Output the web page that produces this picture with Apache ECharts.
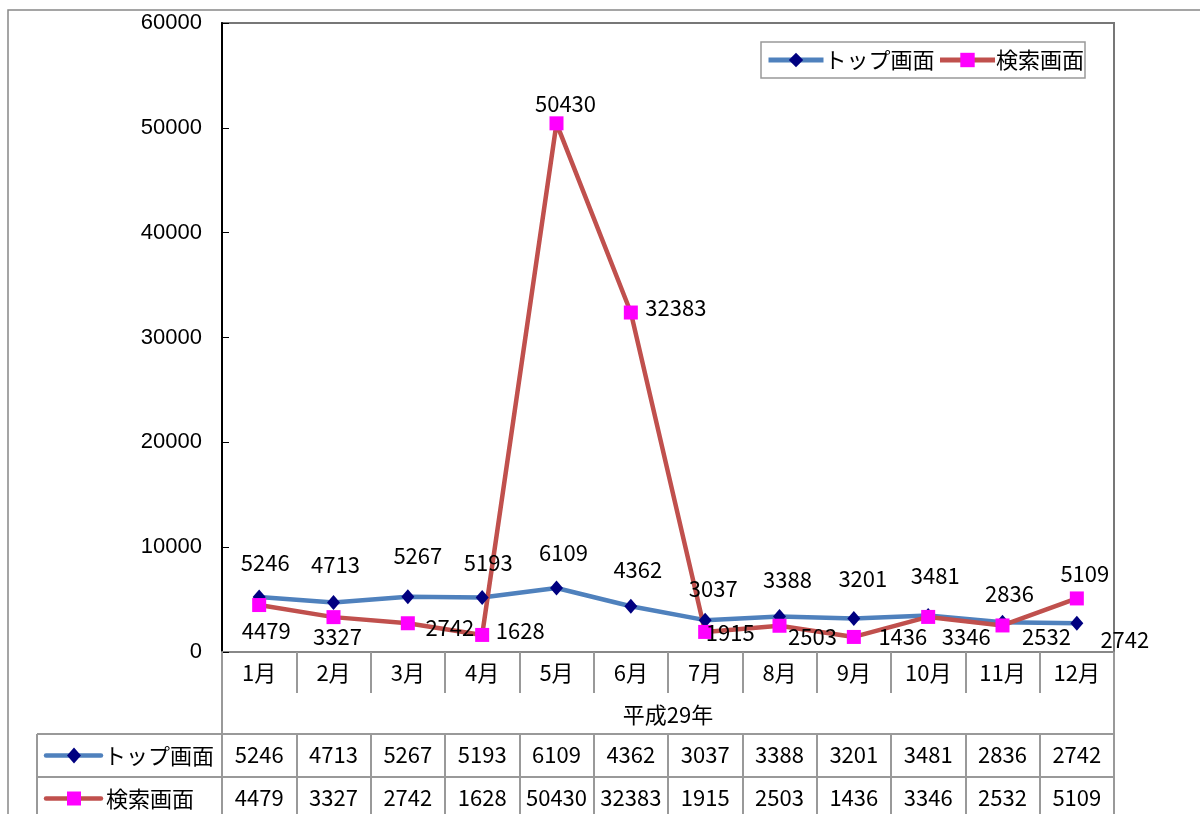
<!DOCTYPE html>
<html>
<head>
<meta charset="UTF-8">
<title>トップ画面・検索画面 アクセス数</title>
<script src="https://cdn.jsdelivr.net/npm/echarts@6/dist/echarts.min.js"></script>
<style>
  html, body { margin: 0; width: 100%; height: 100%; background: #fff; }
  #chart { width: 1200px; height: 814px; }
</style>
</head>
<body>
<div id="chart"></div>
<script>
  // データ
  const months = ['1月', '2月', '3月', '4月', '5月', '6月', '7月', '8月', '9月', '10月', '11月', '12月'];
  const yearLabel = '平成29年';
  const seriesNames = ['トップ画面', '検索画面'];
  const topValues = [5246, 4713, 5267, 5193, 6109, 4362, 3037, 3388, 3201, 3481, 2836, 2742];
  const searchValues = [4479, 3327, 2742, 1628, 50430, 32383, 1915, 2503, 1436, 3346, 2532, 5109];
  const yTicks = { min: 0, max: 60000, interval: 10000 };

  // ラベル位置 (Excel の手動配置に合わせる)
  const topLabelOffset = [[6, -34], [2, -38], [10, -41], [6, -35], [7, -35], [7, -37],
                          [8, -32], [8, -37], [9, -40], [7, -40], [7, -29], [48, 16]];
  const searchLabelOffset = [[7, 26], [4, 20], [42, 4], [38, -4], [9, -20], [45, -5],
                             [25, 1], [33, 11], [49, 0], [38, 20], [44, 11], [8, -25]];

  const jp = '"Noto Sans CJK JP", sans-serif';
  const colors = {
    topLine: '#4F81BD', topMark: '#000080',
    searchLine: '#C0504D', searchMark: '#FF00FF',
    table: '#999'
  };

  // グリッド位置
  const G = { left: 222, right: 86, top: 23, bottom: 162 };
  const W = 1200, H = 814;
  const plotL = G.left, plotR = W - G.right, axisY = H - G.bottom;
  const row1 = axisY + 82, row2 = axisY + 125, row3 = axisY + 168;
  const tableL = 37;

  function tableAxis(values, offset) {
    return {
      type: 'category',
      data: months,
      position: 'bottom',
      offset: offset,
      axisLine: { show: true, lineStyle: { color: colors.table, width: 2 } },
      axisTick: { show: true, interval: 0, length: 43, lineStyle: { color: colors.table, width: 2 } },
      axisLabel: {
        interval: 0,
        formatter: (v, i) => String(values[i]),
        fontSize: 22, color: '#000', fontFamily: jp, margin: 10
      },
      splitLine: { show: false }
    };
  }

  function key(y, lineColor, markColor, shape) {
    const items = [{
      type: 'line',
      shape: { x1: 46, y1: y, x2: 101, y2: y },
      style: { stroke: lineColor, lineWidth: 4.5, lineCap: 'round' }
    }];
    if (shape === 'diamond') {
      items.push({
        type: 'polygon',
        shape: { points: [[74, y - 8], [81, y], [74, y + 8], [67, y]] },
        style: { fill: markColor }
      });
    } else {
      items.push({
        type: 'rect',
        shape: { x: 67, y: y - 7, width: 14, height: 14 },
        style: { fill: markColor }
      });
    }
    return items;
  }

  const chart = echarts.init(document.getElementById('chart'));

  const tableLines = [
    [tableL, row1, plotL, row1],
    [tableL, row2, plotL, row2],
    [tableL, row3, plotL, row3],
    [tableL, row1, tableL, row3],
    [plotL, axisY, plotL, row3],
    [plotR, axisY, plotR, row3]
  ].map(p => ({
    type: 'line',
    shape: { x1: p[0], y1: p[1], x2: p[2], y2: p[3] },
    style: { stroke: colors.table, lineWidth: 2 }
  }));

  chart.setOption({
    animation: false,
    textStyle: { fontFamily: jp },
    legend: {
      data: [
        { name: seriesNames[0], lineStyle: { width: 5, color: colors.topLine }, itemStyle: { color: colors.topMark } },
        { name: seriesNames[1], lineStyle: { width: 5, color: colors.searchLine }, itemStyle: { color: colors.searchMark } }
      ],
      left: 761,
      top: 42,
      orient: 'horizontal',
      borderColor: '#999',
      borderWidth: 1.5,
      padding: [7, 1, 7, 5],
      itemWidth: 55,
      itemHeight: 18,
      itemGap: 3,
      textStyle: { fontSize: 22, color: '#000', fontFamily: jp, padding: [0, 0, 0, -4] }
    },
    grid: {
      left: G.left, right: G.right, top: G.top, bottom: G.bottom,
      show: true, borderColor: '#777', borderWidth: 2, backgroundColor: '#fff'
    },
    xAxis: [
      {
        type: 'category',
        data: months,
        position: 'bottom',
        name: yearLabel,
        nameLocation: 'middle',
        nameGap: 52,
        nameTextStyle: { fontSize: 22, color: '#000', fontFamily: jp },
        axisLine: { show: true, lineStyle: { color: '#888', width: 2 } },
        axisTick: { show: true, interval: 0, length: 41, lineStyle: { color: colors.table, width: 2 } },
        axisLabel: { interval: 0, fontSize: 22, color: '#000', fontFamily: jp, margin: 10 },
        splitLine: { show: false }
      },
      tableAxis(topValues, 82),
      tableAxis(searchValues, 125)
    ],
    yAxis: {
      type: 'value',
      min: yTicks.min,
      max: yTicks.max,
      interval: yTicks.interval,
      axisLine: { show: true, lineStyle: { color: '#000', width: 2 } },
      axisTick: { show: true, inside: true, length: 7, lineStyle: { color: '#000', width: 1 } },
      axisLabel: {
        formatter: v => String(v),
        fontSize: 22, color: '#000', fontFamily: '"Liberation Sans", Arial, sans-serif', margin: 20
      },
      splitLine: { show: false }
    },
    series: [
      {
        name: seriesNames[0],
        type: 'line',
        xAxisIndex: 0,
        data: topValues.map((v, i) => ({ value: v, label: { offset: topLabelOffset[i] } })),
        symbol: 'diamond',
        symbolSize: [13, 15],
        lineStyle: { color: colors.topLine, width: 4.5 },
        itemStyle: { color: colors.topMark },
        label: { show: true, position: 'inside', fontSize: 22, color: '#000', fontFamily: jp },
        emphasis: { disabled: true }
      },
      {
        name: seriesNames[1],
        type: 'line',
        xAxisIndex: 0,
        data: searchValues.map((v, i) => ({ value: v, label: { offset: searchLabelOffset[i] } })),
        symbol: 'rect',
        symbolSize: 14,
        lineStyle: { color: colors.searchLine, width: 4.5 },
        itemStyle: { color: colors.searchMark },
        label: { show: true, position: 'inside', fontSize: 22, color: '#000', fontFamily: jp },
        emphasis: { disabled: true }
      }
    ],
    graphic: [
      {
        type: 'rect',
        z: -10,
        shape: { x: 8, y: 10, width: 1230, height: 840 },
        style: { fill: 'none', stroke: '#888', lineWidth: 1.5 }
      },
      ...tableLines,
      ...key((row1 + row2) / 2, colors.topLine, colors.topMark, 'diamond'),
      ...key((row2 + row3) / 2, colors.searchLine, colors.searchMark, 'rect'),
      {
        type: 'text',
        style: { text: seriesNames[0], x: 104, y: (row1 + row2) / 2, verticalAlign: 'middle',
                 font: '22px ' + jp, fill: '#000' }
      },
      {
        type: 'text',
        style: { text: seriesNames[1], x: 106, y: (row2 + row3) / 2, verticalAlign: 'middle',
                 font: '22px ' + jp, fill: '#000' }
      }
    ]
  });
</script>
</body>
</html>
